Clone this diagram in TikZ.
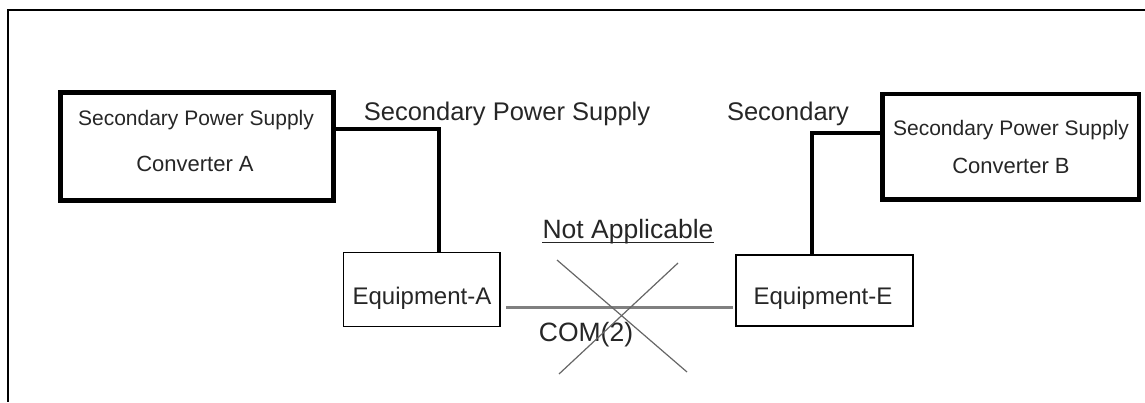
\documentclass[tikz,border=0pt]{standalone}
\usepackage{fontspec}
\setmainfont{Liberation Sans}
\usepackage{xcolor}
\usepackage{tikz}
\tikzset{
  pwframe/.style={line width=1.6pt, draw=black},
  pwconv/.style={draw=black, line width=4.6pt, minimum width=273pt, minimum height=108pt, inner sep=0pt},
  pweq/.style={draw=black, line width=1.4pt, inner sep=0pt},
  pwwire/.style={line width=4.4pt, draw=black, line cap=butt, line join=miter},
  pwcom/.style={line width=3pt, draw=black!50, line cap=butt},
  pwcross/.style={line width=1.2pt, draw=black!60},
  pwuline/.style={line width=1.1pt, draw=black!85},
  pwtext/.style={inner sep=0pt, anchor=base, text=black!85},
}

\begin{document}
\begin{tikzpicture}[x=1pt, y=-1pt]
\useasboundingbox (0,0) rectangle (1145,402);
\draw[pwframe] (1145,10) -- (8,10) -- (8,402);
% converters
\node[pwconv] (convA) at (197,146.5) {};
\node[pwconv, minimum width=256.5pt, minimum height=105.7pt] (convB) at (1010.8,146.8) {};
\node[pwtext, font=\fontsize{21}{24}\selectfont] (convAt1) at (196,125) {Secondary Power Supply};
\node[pwtext, font=\fontsize{22}{24}\selectfont] (convAt2) at (195,171) {Converter A};
\node[pwtext, font=\fontsize{21}{24}\selectfont] (convBt1) at (1011,135) {Secondary Power Supply};
\node[pwtext, font=\fontsize{22}{24}\selectfont] (convBt2) at (1011,173) {Converter B};
% equipment
\node[pweq, minimum width=156.7pt, minimum height=74.4pt] (eqA) at (421.7,289.5) {};
\node[pweq, minimum width=177pt, minimum height=71pt] (eqE) at (824.5,290.5) {};
\node[pwtext, font=\fontsize{24}{26}\selectfont] (eqAt) at (422,304) {Equipment-A};
\node[pwtext, font=\fontsize{24}{26}\selectfont] (eqEt) at (823,304) {Equipment-E};
% supply wires
\draw[pwwire] (convA.east |- 0,129) -| (eqA.north -| 439,0);
\draw[pwwire] (convB.west |- 0,133) -| (eqE.north -| 812,0);
\node[pwtext, font=\fontsize{25.5}{28}\selectfont] (supA) at (507,120) {Secondary Power Supply};
\node[pwtext, font=\fontsize{25.5}{28}\selectfont] (supB) at (788,120) {Secondary};
% com link, crossed out
\coordinate (comL) at (506,307);
\coordinate (comR) at (733,307);
\draw[pwcom] (comL) -- (comR);
\node[pwtext, font=\fontsize{26.5}{30}\selectfont] (com) at (586,341) {COM(2)};
\coordinate (xa) at (557,260);
\coordinate (xb) at (687,372);
\coordinate (xc) at (678,263);
\coordinate (xd) at (559,374);
\draw[pwcross] (xa) -- (xb);
\draw[pwcross] (xc) -- (xd);
\node[pwtext, font=\fontsize{26.5}{30}\selectfont] (na) at (628,238.5) {Not Applicable};
\draw[pwuline] ([yshift=-4pt]na.base west) -- ([yshift=-4pt]na.base east);
\end{tikzpicture}
\end{document}
